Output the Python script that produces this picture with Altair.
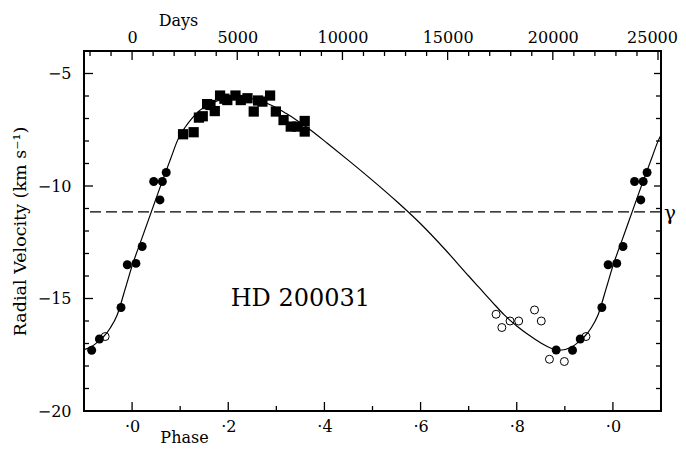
import altair as alt
import pandas as pd

# ---------------- data ----------------
PERIOD_DAYS = 22857          # days per unit phase (top axis)
GAMMA = -11.15               # systemic velocity (dashed line)

curve_phase = [0.000, 0.020, 0.040, 0.060, 0.080, 0.095, 0.110, 0.125, 0.140, 0.160,
               0.180, 0.200, 0.220, 0.240, 0.260, 0.280, 0.300, 0.320, 0.340, 0.371,
               0.406, 0.450, 0.500, 0.550, 0.600, 0.650, 0.700, 0.722, 0.750, 0.774,
               0.800, 0.825, 0.851, 0.870, 0.890, 0.913, 0.930, 0.941, 0.955, 0.969,
               0.986]
curve_vel = [-13.55, -12.35, -11.15, -9.95, -8.80, -7.95, -7.40, -6.98, -6.65, -6.38,
             -6.20, -6.10, -6.06, -6.08, -6.17, -6.32, -6.52, -6.77, -7.04, -7.51,
             -8.10, -8.86, -9.75, -10.68, -11.68, -12.80, -14.00, -14.52, -15.18, -15.73,
             -16.22, -16.62, -16.99, -17.20, -17.30, -17.17, -16.90, -16.69, -16.30, -15.73,
             -14.55]

filled_phase = [0.882, 0.916, 0.932, 0.977, 0.990, 0.008, 0.021, 0.045, 0.058, 0.063, 0.071]
filled_vel = [-17.29, -17.30, -16.80, -15.40, -13.50, -13.44, -12.69, -9.80, -10.62, -9.80, -9.40]

open_phase = [0.757, 0.769, 0.786, 0.804, 0.837, 0.851, 0.868, 0.899, 0.944]
open_vel = [-15.70, -16.29, -16.00, -16.00, -15.51, -16.00, -17.70, -17.80, -16.69]

square_phase = [0.106, 0.128, 0.139, 0.147, 0.156, 0.163, 0.172, 0.183, 0.192, 0.198,
                0.215, 0.226, 0.240, 0.253, 0.262, 0.271, 0.287, 0.299, 0.315, 0.330,
                0.344, 0.359, 0.359]
square_vel = [-7.70, -7.61, -6.96, -6.90, -6.36, -6.40, -6.67, -5.98, -6.12, -6.18,
              -5.98, -6.18, -6.10, -6.69, -6.20, -6.25, -5.98, -6.69, -7.07, -7.36,
              -7.36, -7.11, -7.58]

phase_major = [0.0, 0.2, 0.4, 0.6, 0.8, 1.0]
phase_minor = [0.1, 0.3, 0.5, 0.7, 0.9]
days_major = [0, 5000, 10000, 15000, 20000, 25000]
days_minor = [d for d in range(-2000, 25001, 1000) if d % 5000 != 0]
vel_major = [-20, -15, -10, -5]
vel_minor = [v for v in range(-19, -4) if v % 5 != 0]

STAR_LABEL = "HD 200031"
STAR_POS = (0.35, -15.0)

X_DOMAIN = [-0.1, 1.1]
Y_DOMAIN = [-20, -4]
W, H = 577, 360
FONT = "DejaVu Serif"
MAJOR, MINOR, RIGHT_MAJOR = 9, 5, 7
TICK_W = 1.3
TICK_COLOR = "black"


def unfold(ph, vel, lo, hi):
    rows = []
    for p, v in zip(ph, vel):
        for k in (-1, 0, 1):
            q = p + k
            if lo <= q <= hi:
                rows.append({"phase": q, "v": v})
    return pd.DataFrame(rows)


curve_df = unfold(curve_phase, curve_vel, -0.2, 1.2)
filled_df = unfold(filled_phase, filled_vel, -0.1, 1.1)
open_df = unfold(open_phase, open_vel, -0.1, 1.1)
square_df = unfold(square_phase, square_vel, -0.1, 1.1)
gamma_df = pd.DataFrame({"phase": [X_DOMAIN[1]], "v": [GAMMA], "t": ["γ"]})
label_df = pd.DataFrame({"phase": [STAR_POS[0]], "v": [STAR_POS[1]], "t": [STAR_LABEL]})

xs = alt.Scale(domain=X_DOMAIN, nice=False, zero=False)
ys = alt.Scale(domain=Y_DOMAIN, nice=False, zero=False)

days_major_ph = [d / PERIOD_DAYS for d in days_major]
days_minor_ph = [d / PERIOD_DAYS for d in days_minor]

# ---------------- axes (labels only) ----------------
x_phase_labels = alt.Axis(orient="bottom", values=phase_major, ticks=False, domain=False,
                          grid=False, labelExpr="'·' + (round(datum.value*10) % 10)",
                          labelFontSize=16, labelPadding=7, title="Phase",
                          titleFontSize=16, titleX=100, titleY=31, titleAlign="center",
                          titleBaseline="alphabetic", titleAnchor="start")
x_days_labels = alt.Axis(orient="top", values=days_major_ph, ticks=False, domain=False,
                         grid=False,
                         labelExpr=f"format(round(datum.value*{PERIOD_DAYS}/1000)*1000, 'd')",
                         labelOffset={"condition": {"test": "datum.value > 1", "value": -6},
                                      "value": 0},
                         labelFontSize=16, labelPadding=6, title="Days",
                         titleFontSize=16, titleX=94, titleY=-26, titleAlign="center",
                         titleBaseline="alphabetic", titleAnchor="start")
y_labels = alt.Axis(orient="left", values=vel_major, ticks=False, domain=False, grid=False,
                    labelFontSize=16, labelPadding=13,
                    title="Radial Velocity (km s⁻¹)", titleFontSize=17.5, titlePadding=8)


# ---------------- inward tick marks (positions from the scales) ----------------
def x_ticks(values, length, top):
    df = pd.DataFrame({"phase": values})
    y0, y1 = (0, length) if top else (H, H - length)
    return alt.Chart(df).mark_rule(color=TICK_COLOR, strokeWidth=TICK_W).encode(
        x=alt.X("phase:Q", scale=xs, axis=None),
        y=alt.value(y0), y2=alt.value(y1),
    )


def y_ticks(values, length, right):
    df = pd.DataFrame({"v": values})
    x0, x1 = (W, W - length) if right else (0, length)
    return alt.Chart(df).mark_rule(color=TICK_COLOR, strokeWidth=TICK_W).encode(
        y=alt.Y("v:Q", scale=ys, axis=None),
        x=alt.value(x0), x2=alt.value(x1),
    )


ticks = [
    x_ticks(phase_major, MAJOR, False), x_ticks(phase_minor, MINOR, False),
    x_ticks(days_major_ph, MAJOR, True), x_ticks(days_minor_ph, MINOR, True),
    y_ticks(vel_major, MAJOR, False), y_ticks(vel_minor, MINOR, False),
    y_ticks(vel_major, RIGHT_MAJOR, True), y_ticks(vel_minor, MINOR, True),
]

# ---------------- data layers ----------------
curve = alt.Chart(curve_df).mark_line(color="black", strokeWidth=1.2, clip=True,
                                      interpolate="monotone").encode(
    x=alt.X("phase:Q", scale=xs, axis=x_phase_labels),
    y=alt.Y("v:Q", scale=ys, axis=y_labels),
)

gamma_line = alt.Chart(gamma_df).mark_rule(color="black", strokeWidth=1.1,
                                           strokeDash=[11, 5]).encode(
    y=alt.Y("v:Q", scale=ys, axis=None),
)

opens = alt.Chart(open_df).mark_point(shape="circle", filled=False, color="black",
                                      strokeWidth=1, size=64, opacity=1).encode(
    x=alt.X("phase:Q", scale=xs, axis=None),
    y=alt.Y("v:Q", scale=ys, axis=None),
)

filled = alt.Chart(filled_df).mark_circle(color="black", size=80, opacity=1).encode(
    x=alt.X("phase:Q", scale=xs, axis=x_days_labels),
    y=alt.Y("v:Q", scale=ys, axis=None),
)

squares = alt.Chart(square_df).mark_square(color="black", size=105, opacity=1).encode(
    x=alt.X("phase:Q", scale=xs, axis=None),
    y=alt.Y("v:Q", scale=ys, axis=None),
)

star = alt.Chart(label_df).mark_text(font=FONT, fontSize=24, color="black",
                                     align="center", baseline="middle").encode(
    x=alt.X("phase:Q", scale=xs, axis=None),
    y=alt.Y("v:Q", scale=ys, axis=None),
    text="t:N",
)

gamma_txt = alt.Chart(gamma_df).mark_text(font=FONT, fontSize=20, color="black",
                                          align="left", baseline="middle", dx=3,
                                          dy=2).encode(
    x=alt.X("phase:Q", scale=xs, axis=None),
    y=alt.Y("v:Q", scale=ys, axis=None),
    text="t:N",
)

chart = alt.layer(curve, gamma_line, opens, filled, squares, star, gamma_txt,
                  *ticks).resolve_axis(
    x="independent", y="independent"
).properties(
    width=W, height=H, autosize="none",
    padding={"left": 76, "top": 43, "right": 17, "bottom": 34},
    background="white",
).configure_axis(
    labelFont=FONT, titleFont=FONT, labelColor="black", titleColor="black",
    titleFontWeight="normal",
).configure_view(stroke="black", strokeWidth=2)

chart.save("out.html", embed_options={"renderer": "svg", "actions": False})
